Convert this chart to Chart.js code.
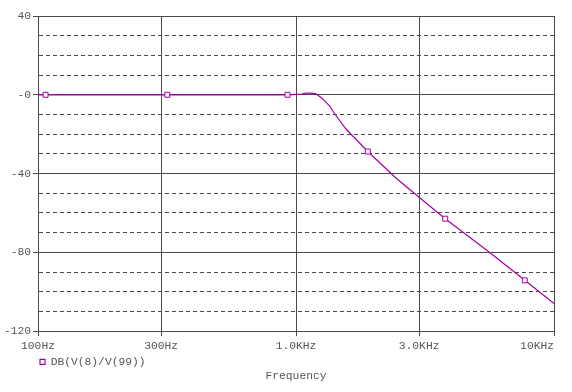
<!DOCTYPE html>
<html>
  <head>
    <title>DB(V(8)/V(99))</title>
    <script src="https://cdn.jsdelivr.net/npm/chart.js@4.4.1/dist/chart.umd.min.js"></script>
    <style>
      body {
        margin: 0;
        background: #fff;
      }
    </style>
  </head>
  <body>
    <canvas id="bode" width="572" height="392"></canvas>

    <script>
      // trace (frequency in Hz, gain in dB)
      const freqHz = [100, 107, 200, 317, 500, 927, 1050, 1100, 1140, 1190, 1250, 1300, 1350, 1410, 1565, 1898, 2446, 3000, 3787, 5538, 7705, 10000];
      const gainDb = [0, 0, 0, 0, 0, 0, 0.3, 0.8, 0.8, 0.6, -1.4, -3.5, -5.7, -9.5, -17.5, -28.8, -42.4, -52, -62.9, -79.3, -94.2, -106];
      const markerHz = [107, 317, 927, 1898, 3787, 7705];

      const xTicks = [100, 300, 1000, 3000, 10000];
      const xTickLabels = ["100Hz", "300Hz", "1.0KHz", "3.0KHz", "10KHz"];

      const gridGray = "#4a4a4a";
      const textGray = "#555555";
      const trace = "#a400a8";
      const mono = { family: "'Liberation Mono', 'DejaVu Sans Mono', monospace", size: 11.3 };

      const points = freqHz.map((f, i) => ({ x: f, y: gainDb[i] }));
      const isMajor = (ctx) => ctx.tick && ctx.tick.value % 40 === 0;

      new Chart("bode", {
        type: "line",
        data: {
          datasets: [
            {
              label: "DB(V(8)/V(99))",
              data: points,
              borderColor: trace,
              backgroundColor: "#ffffff",
              borderWidth: 1.2,
              tension: 0,
              pointStyle: "rect",
              pointRadius: (ctx) => (markerHz.includes(freqHz[ctx.dataIndex]) ? 3.5 : 0),
              pointBorderWidth: 1,
              pointBorderColor: trace,
              pointBackgroundColor: "#ffffff",
            },
          ],
        },
        options: {
          responsive: false,
          animation: false,
          layout: { padding: { top: 16, right: 18, left: 0, bottom: 5 } },
          scales: {
            x: {
              type: "logarithmic",
              min: 100,
              max: 10000,
              afterBuildTicks: (scale) => {
                scale.ticks = xTicks.map((v) => ({ value: v }));
              },
              afterFit: (scale) => {
                scale.height = 23;
                scale.paddingLeft = 0;
                scale.paddingRight = 0;
              },
              ticks: {
                autoSkip: false,
                maxRotation: 0,
                padding: 3,
                color: textGray,
                font: mono,
                callback: (value) => {
                  const i = xTicks.indexOf(value);
                  // last label sits flush left of the right edge, like the original plot
                  return i === xTicks.length - 1 ? xTickLabels[i] + "     " : xTickLabels[i];
                },
              },
              grid: { color: gridGray, tickColor: gridGray, tickLength: 5 },
              border: { color: gridGray },
            },
            y: {
              min: -120,
              max: 40,
              afterFit: (scale) => {
                scale.width = 38;
              },
              ticks: {
                stepSize: 10,
                padding: 2,
                color: textGray,
                font: mono,
                callback: (value) => (value % 40 === 0 ? (value === 0 ? "-0" : String(value)) : ""),
              },
              grid: {
                color: gridGray,
                tickColor: (ctx) => (isMajor(ctx) ? gridGray : "rgba(0,0,0,0)"),
                tickLength: 5,
              },
              border: {
                color: gridGray,
                dash: (ctx) => (!ctx.tick || isMajor(ctx) ? [] : [4, 3]),
              },
            },
          },
          plugins: {
            legend: {
              position: "bottom",
              align: "start",
              fullSize: false,
              labels: {
                boxWidth: 5,
                boxHeight: 5,
                padding: 2,
                color: textGray,
                font: mono,
              },
            },
            title: {
              display: true,
              text: "Frequency",
              position: "bottom",
              fullSize: false,
              color: textGray,
              font: { ...mono, weight: "normal" },
              padding: { top: -8, bottom: 4 },
            },
            tooltip: { enabled: false },
          },
        },
      });
    </script>
  </body>
</html>
